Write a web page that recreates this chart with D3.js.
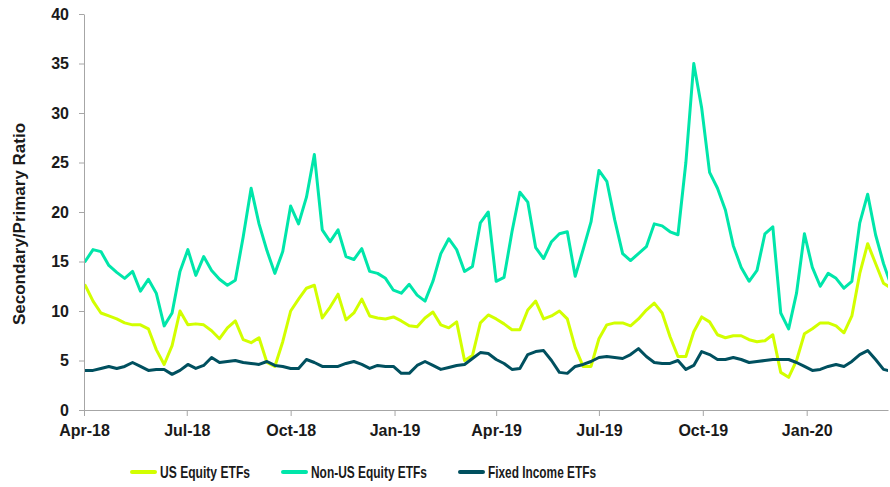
<!DOCTYPE html>
<html lang="en">
<head>
    <meta charset="UTF-8">
    <title>Secondary/Primary Ratio</title>
    <script src="https://d3js.org/d3.v7.min.js"></script>
    <style>
        body { margin: 0; background: white; }
        svg text { font-family: "Liberation Sans", Arial, sans-serif; font-weight: bold; fill: #1a1a1a; }
        .axis path, .axis line { stroke: #a6a6a6; stroke-width: 1; }
        .axis text { font-size: 16px; }
        .legend text { font-size: 17px; }
    </style>
</head>
<body>
<div id="chart"></div>
<script>
    var w = 890;
    var h = 487;
    var margin = {left: 84, right: 2, top: 14, bottom: 77};

    // weekly observations, first one on this date
    var startDate = new Date(2018, 3, 2);

    var seriesNames = ["US Equity ETFs", "Non-US Equity ETFs", "Fixed Income ETFs"];
    var seriesColors = ["#d2ff00", "#00e6aa", "#00505f"];

    var usEquity = [12.6,11.0,9.8,9.5,9.2,8.8,8.6,8.6,8.2,6.1,
        4.6,6.5,10.0,8.6,8.7,8.6,8.0,7.2,8.3,9.0,
        7.1,6.8,7.3,4.8,4.4,6.9,10.0,11.2,12.3,12.6,
        9.3,10.4,11.7,9.1,9.8,11.2,9.5,9.3,9.2,9.4,
        9.0,8.5,8.4,9.3,9.9,8.6,8.3,8.9,5.0,5.5,
        8.8,9.6,9.2,8.7,8.1,8.1,10.1,11.0,9.2,9.5,
        10.0,9.2,6.3,4.4,4.4,7.2,8.6,8.8,8.8,8.5,
        9.2,10.1,10.8,9.8,7.4,5.4,5.4,7.9,9.4,8.9,
        7.6,7.3,7.5,7.5,7.1,6.9,7.0,7.6,3.8,3.3,
        5.0,7.7,8.2,8.8,8.8,8.5,7.8,9.5,13.8,16.8,
        14.8,12.8,12.3];

    var nonUsEquity = [15.0,16.2,16.0,14.6,13.9,13.3,14.0,12.0,13.2,11.8,
        8.5,9.8,14.0,16.2,13.6,15.5,14.1,13.2,12.6,13.1,
        17.5,22.4,18.8,16.1,13.8,16.0,20.6,18.8,21.5,25.8,
        18.2,17.0,18.2,15.5,15.2,16.3,14.0,13.8,13.3,12.1,
        11.8,12.7,11.6,11.0,13.0,15.8,17.3,16.2,14.0,14.5,
        18.9,20.0,13.0,13.4,18.0,22.0,21.0,16.4,15.3,17.0,
        17.8,18.0,13.5,16.2,19.0,24.2,23.1,19.2,15.8,15.1,
        15.8,16.5,18.8,18.6,18.0,17.7,25.0,35.0,30.5,24.0,
        22.4,20.2,16.6,14.4,13.0,14.1,17.8,18.5,9.8,8.2,
        11.8,17.8,14.4,12.5,13.8,13.3,12.3,13.0,18.9,21.8,
        17.7,14.8,12.5];

    var fixedIncome = [4.0,4.0,4.2,4.4,4.2,4.4,4.8,4.4,4.0,4.1,
        4.1,3.6,4.0,4.6,4.2,4.5,5.3,4.8,4.9,5.0,
        4.8,4.7,4.6,4.9,4.5,4.4,4.2,4.2,5.1,4.8,
        4.4,4.4,4.4,4.7,4.9,4.6,4.2,4.5,4.4,4.4,
        3.7,3.7,4.5,4.9,4.5,4.1,4.3,4.5,4.6,5.2,
        5.8,5.7,5.1,4.7,4.1,4.2,5.6,5.9,6.0,5.0,
        3.8,3.7,4.4,4.6,4.9,5.3,5.4,5.3,5.2,5.6,
        6.2,5.4,4.8,4.7,4.7,5.0,4.1,4.5,5.9,5.6,
        5.1,5.1,5.3,5.1,4.8,4.9,5.0,5.1,5.1,5.1,
        4.8,4.4,4.0,4.1,4.4,4.6,4.4,4.9,5.6,6.0,
        5.1,4.1,3.9];

    var yTicks = [0, 5, 10, 15, 20, 25, 30, 35, 40];

    var dates = usEquity.map(function(d, i) {
        return d3.timeDay.offset(startDate, 7 * i);
    });
    var allSeries = [usEquity, nonUsEquity, fixedIncome];

    var xScale = d3.scaleTime()
                   .domain([new Date(2018, 3, 1), new Date(2020, 2, 13)])
                   .range([margin.left, w - margin.right]);

    var yScale = d3.scaleLinear()
                   .domain([0, 40])
                   .range([h - margin.bottom, margin.top]);

    var svg = d3.select("#chart")
                .append("svg")
                .attr("width", w)
                .attr("height", h);

    svg.append("clipPath")
       .attr("id", "plotClip")
       .append("rect")
       .attr("x", margin.left)
       .attr("y", 0)
       .attr("width", w - margin.right - margin.left)
       .attr("height", h - margin.bottom);

    var line = d3.line()
                 .x(function(d, i) { return xScale(dates[i]); })
                 .y(function(d) { return yScale(d); });

    svg.append("g")
       .attr("clip-path", "url(#plotClip)")
       .selectAll("path")
       .data(allSeries)
       .enter()
       .append("path")
       .attr("d", line)
       .attr("fill", "none")
       .attr("stroke", function(d, i) { return seriesColors[i]; })
       .attr("stroke-width", 3)
       .attr("stroke-linejoin", "round")
       .attr("stroke-linecap", "round");

    // axes
    var xAxis = d3.axisBottom(xScale)
                  .ticks(d3.timeMonth.every(3))
                  .tickFormat(d3.timeFormat("%b-%y"))
                  .tickSize(6)
                  .tickSizeOuter(0)
                  .tickPadding(9);

    svg.append("g")
       .attr("class", "axis")
       .attr("transform", "translate(0," + (h - margin.bottom) + ")")
       .call(xAxis);

    var yAxis = d3.axisLeft(yScale)
                  .tickValues(yTicks)
                  .tickSize(5)
                  .tickSizeOuter(0)
                  .tickPadding(10);

    svg.append("g")
       .attr("class", "axis")
       .attr("transform", "translate(" + margin.left + ",0)")
       .call(yAxis);

    svg.selectAll(".axis text").attr("fill", "#1a1a1a");

    svg.append("text")
       .attr("transform", "translate(25,224) rotate(-90)")
       .attr("text-anchor", "middle")
       .style("font-size", "17px")
       .text("Secondary/Primary Ratio");

    // legend (text squeezed, the original uses a narrow face)
    var legendX = [132, 283, 460];
    var legendTextW = [90, 116, 108];
    var legend = svg.append("g")
                    .attr("class", "legend")
                    .selectAll("g")
                    .data(seriesNames)
                    .enter()
                    .append("g")
                    .attr("transform", function(d, i) { return "translate(" + legendX[i] + ",472)"; });

    legend.append("line")
          .attr("x1", 0)
          .attr("x2", 23)
          .attr("stroke", function(d, i) { return seriesColors[i]; })
          .attr("stroke-width", 4)
          .attr("stroke-linecap", "round");

    legend.append("text")
          .attr("x", 28)
          .attr("dy", "0.36em")
          .attr("textLength", function(d, i) { return legendTextW[i]; })
          .attr("lengthAdjust", "spacingAndGlyphs")
          .text(function(d) { return d; });
</script>
</body>
</html>
